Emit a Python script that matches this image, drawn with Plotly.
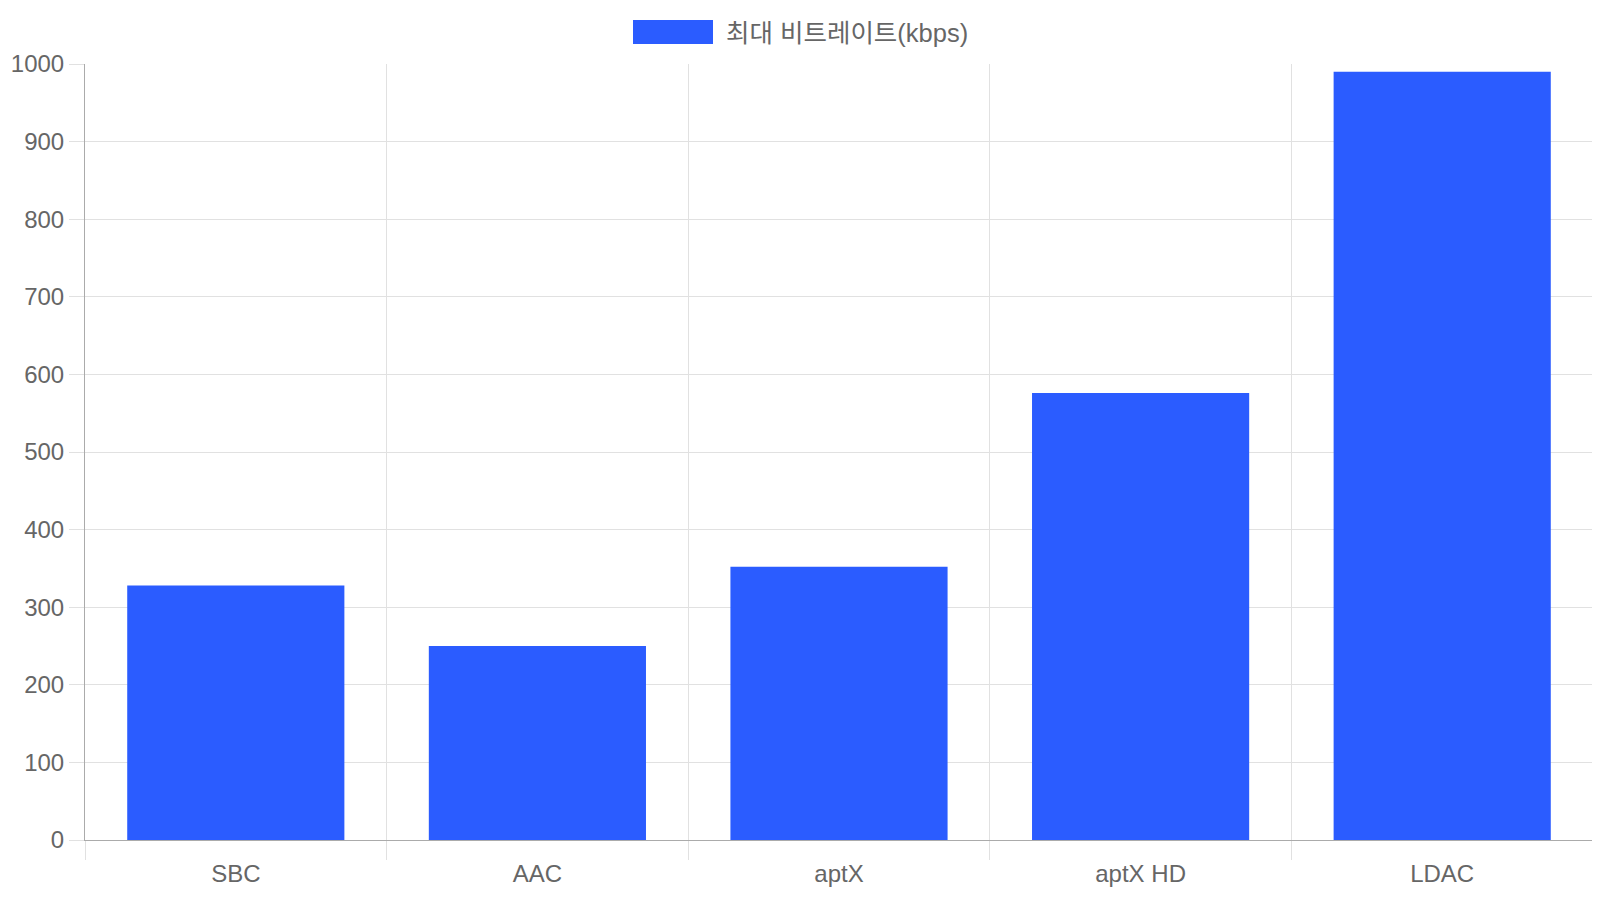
import plotly.graph_objects as go

categories = ["SBC", "AAC", "aptX", "aptX HD", "LDAC"]
bitrates = [328, 250, 352, 576, 990]
series_name = "최대 비트레이트(kbps)"
y_ticks = list(range(0, 1001, 100))

FONT = "Liberation Sans, Arial, Noto Sans CJK KR, sans-serif"
BAR = "#2b5cff"
GRID = "#e1e1e1"
AXIS = "#ababab"
TEXT = "#666666"

# page is offset by the 8px body margin; plot area in page coords: x 85..1593, y 64..840
W, H = 1592, 892
L, T = 77, 56
PW, PH = 1508, 776

fig = go.Figure()
fig.add_trace(go.Bar(
    x=categories, y=bitrates, name=series_name,
    marker=dict(color=BAR, line=dict(width=0)),
    showlegend=False,
))

fig.update_layout(
    width=W, height=H,
    margin=dict(l=L, r=W - L - PW, t=T, b=H - T - PH, autoexpand=False),
    paper_bgcolor="white", plot_bgcolor="white",
    bargap=0.28,
    font=dict(family=FONT, size=24, color=TEXT),
    xaxis=dict(
        type="category",
        tickson="boundaries",
        ticks="outside", ticklen=19, tickcolor=GRID, tickwidth=1,
        showgrid=True, gridcolor=GRID, gridwidth=1,
        showline=True, linecolor=AXIS, linewidth=1,
        tickfont=dict(family=FONT, size=24, color=TEXT),
        ticklabelstandoff=12,
        automargin=False,
        range=[-0.5, 4.5],
    ),
    yaxis=dict(
        range=[0, 1000],
        tickvals=y_ticks,
        ticks="outside", ticklen=15, tickcolor=GRID, tickwidth=1,
        showgrid=True, gridcolor=GRID, gridwidth=1,
        showline=True, linecolor=AXIS, linewidth=1,
        zeroline=True, zerolinecolor=AXIS, zerolinewidth=1,
        tickfont=dict(family=FONT, size=24, color=TEXT),
        automargin=False,
    ),
    shapes=[
        dict(type="rect", xref="paper", yref="paper",
             x0=(633 - 85) / PW, x1=(713 - 85) / PW,
             y0=(840 - 44) / PH, y1=(840 - 20) / PH,
             fillcolor=BAR, line=dict(width=0)),
        dict(type="line", xref="paper", yref="paper",
             x0=1, x1=1, y0=0, y1=1, line=dict(color=GRID, width=1)),
    ],
    annotations=[
        dict(text=series_name, xref="paper", yref="paper",
             x=(724 - 85) / PW, y=(840 - 33) / PH,
             xanchor="left", yanchor="middle", showarrow=False,
             font=dict(family=FONT, size=25.5, color=TEXT)),
    ],
)

fig.write_html("out.html")
